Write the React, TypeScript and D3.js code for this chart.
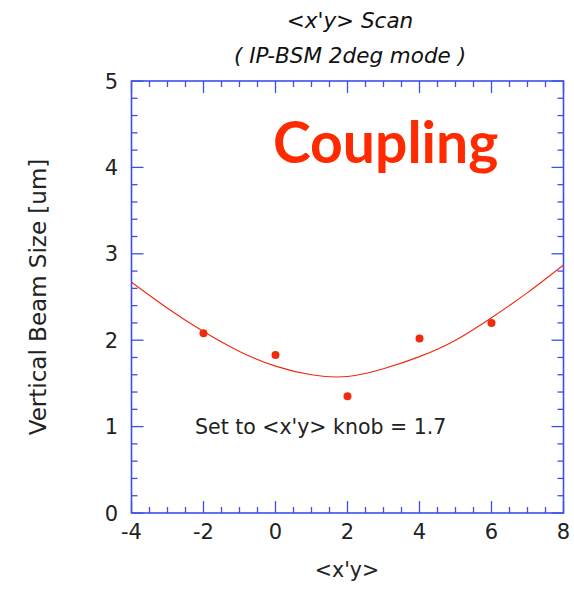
import React from "react";
import * as d3 from "d3";

const W = 574;
const H = 591;

const titleLines = ["<x'y> Scan", "( IP-BSM 2deg mode )"];
const xLabel = "<x'y>";
const yLabel = "Vertical Beam Size [um]";
const annotation = "Set to <x'y> knob = 1.7";
const stamp = "Coupling";

const xTickValues = [-4, -2, 0, 2, 4, 6, 8];
const yTickValues = [0, 1, 2, 3, 4, 5];

// measured points
const scanX = [-2, 0, 2, 4, 6];
const beamSize = [2.08, 1.83, 1.35, 2.02, 2.2];

// fit curve
const fitX = [-4, -3, -2, -1, 0, 1, 2, 3, 4, 5, 6, 7, 8];
const fitY = [2.67, 2.37, 2.1, 1.87, 1.7, 1.6, 1.58, 1.67, 1.81, 2.0, 2.26, 2.55, 2.87];

const M = { left: 131.5, right: 563.5, top: 81, bottom: 513 };
const AXIS = "#3c50e8";
const RED = "#ee2a10";

export default function App() {
  const x = d3.scaleLinear().domain([-4, 8]).range([M.left, M.right]);
  const y = d3.scaleLinear().domain([0, 5]).range([M.bottom, M.top]);

  const xMinor = d3.range(-4, 8.001, 0.5);
  const yMinor = d3.range(0, 5.001, 0.2);
  const isMajorX = (v: number) => Math.abs(v / 2 - Math.round(v / 2)) < 1e-6;
  const isMajorY = (v: number) => Math.abs(v - Math.round(v)) < 1e-6;

  const line = d3
    .line<number>()
    .x((_, i) => x(fitX[i]))
    .y((d) => y(d))
    .curve(d3.curveNatural);

  const font = "'DejaVu Sans', Verdana, sans-serif";

  return (
    <svg
      width={W}
      height={H}
      style={{ position: "absolute", left: 0, top: 0, background: "#fff" }}
      fontFamily={font}
    >
      <rect x={0} y={0} width={W} height={H} fill="#fff" />
      {/* title */}
      <text x={350} y={28} textAnchor="middle" fontSize={21.5} fontStyle="italic" fill="#111">
        {titleLines[0]}
      </text>
      <text x={350} y={63} textAnchor="middle" fontSize={21.5} fontStyle="italic" fill="#111">
        {titleLines[1]}
      </text>

      {/* ticks */}
      {xMinor.map((v, i) => {
        const len = isMajorX(v) ? 12 : 6;
        return (
          <g key={"xt" + i} stroke={AXIS} strokeWidth={1.3}>
            <line x1={x(v)} x2={x(v)} y1={M.bottom} y2={M.bottom - len} />
            <line x1={x(v)} x2={x(v)} y1={M.top} y2={M.top + len} />
          </g>
        );
      })}
      {yMinor.map((v, i) => {
        const len = isMajorY(v) ? 12 : 6;
        return (
          <g key={"yt" + i} stroke={AXIS} strokeWidth={1.3}>
            <line x1={M.left} x2={M.left + len} y1={y(v)} y2={y(v)} />
            <line x1={M.right} x2={M.right - len} y1={y(v)} y2={y(v)} />
          </g>
        );
      })}
      <rect
        x={M.left}
        y={M.top}
        width={M.right - M.left}
        height={M.bottom - M.top}
        fill="none"
        stroke={AXIS}
        strokeWidth={1.6}
      />

      {/* tick labels */}
      {xTickValues.map((v) => (
        <text key={"xl" + v} x={x(v)} y={539} textAnchor="middle" fontSize={21} fill="#222">
          {String(v)}
        </text>
      ))}
      {yTickValues.map((v) => (
        <text key={"yl" + v} x={118} y={y(v) + 7.5} textAnchor="end" fontSize={21} fill="#222">
          {String(v)}
        </text>
      ))}

      {/* axis labels */}
      <text x={347} y={577} textAnchor="middle" fontSize={20.5} fill="#222">
        {xLabel}
      </text>
      <text
        transform={`translate(46,297) rotate(-90)`}
        textAnchor="middle"
        fontSize={23}
        fill="#222"
      >
        {yLabel}
      </text>

      {/* fit curve */}
      <path d={line(fitY) || ""} fill="none" stroke={RED} strokeWidth={1.1} />

      {/* points */}
      {scanX.map((v, i) => (
        <circle key={"p" + i} cx={x(v)} cy={y(beamSize[i])} r={4} fill={RED} />
      ))}

      {/* annotation */}
      <text x={195} y={434} fontSize={20.5} fill="#222">
        {annotation}
      </text>

      <text
        x={273}
        y={163}
        fontSize={57}
        fontWeight="bold"
        fontFamily="Lato, 'Open Sans', sans-serif"
        fill="#ff2a00"
      >
        {stamp}
      </text>
    </svg>
  );
}
